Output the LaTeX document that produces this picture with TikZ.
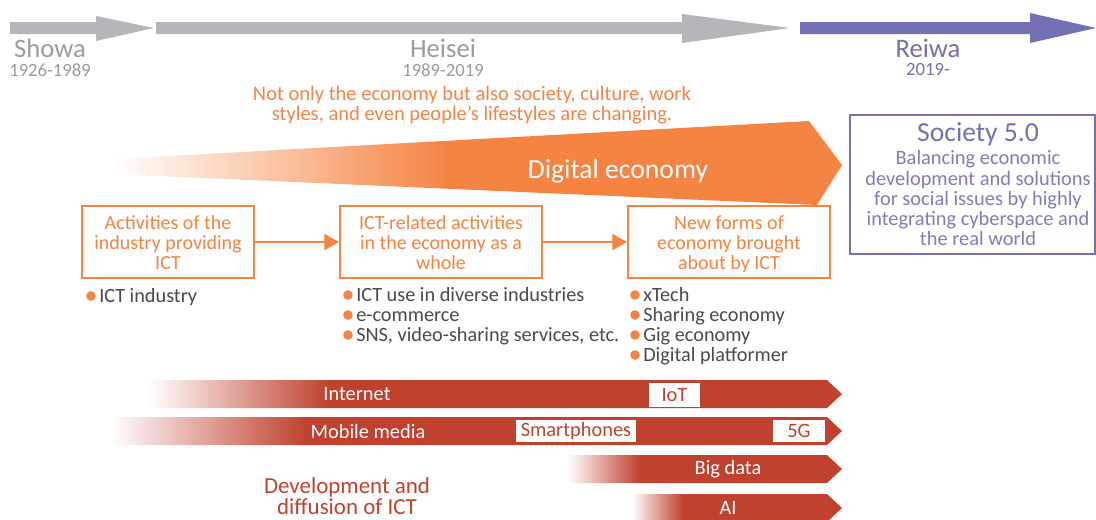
\documentclass[tikz,border=0pt]{standalone}
\usepackage{fontspec}
\setmainfont{Carlito}
\usetikzlibrary{arrows.meta}
\definecolor{tlgray}{HTML}{B5B6B9}
\definecolor{txgray}{HTML}{9B9B9B}
\definecolor{purp}{HTML}{7370B3}
\definecolor{purptx}{HTML}{7F7CBC}
\definecolor{orgc}{HTML}{F58342}
\definecolor{barc}{HTML}{BF412E}
\definecolor{dark}{HTML}{4A4A4A}
\newcommand\ictbar[3]{%
  \begin{scope}
    \clip (#1,#3-14) -- (827,#3-14) -- (842,#3) -- (827,#3+14) -- (#1,#3+14) -- cycle;
    \shade[left color=white,right color=barc] (#1,#3-15) rectangle (#2,#3+15);
    \fill[barc] (#2-0.5,#3-15) rectangle (850,#3+15);
  \end{scope}}
\newcommand\bul[3]{\fill[orgc] (#1,#2) circle[radius=3.6pt];
  \node[btext] at (#1+8,#2+1.5) {#3};}
\tikzset{
  era/.style={font=\fontsize{20}{22}\selectfont},
  yr/.style={font=\fontsize{14}{16}\selectfont},
  ebox/.style={draw=orgc,line width=1.5pt,fill=white,inner sep=0pt,minimum height=54pt},
  etext/.style={text=orgc,align=center,font=\fontsize{15}{15}\selectfont,inner sep=0pt},
  btext/.style={anchor=west,text=dark,font=\fontsize{15.2}{15}\selectfont,inner sep=0pt,
    text height=10pt,text depth=3pt},
  barlab/.style={text=white,font=\fontsize{15.3}{15}\selectfont},
  wlab/.style={fill=white,text=barc,font=\fontsize{15.3}{15}\selectfont,inner sep=0pt,minimum height=18pt},
  conn/.style={draw=orgc,line width=1.5pt,-{Triangle[length=11pt,width=12pt]}}
}
\begin{document}
\begin{tikzpicture}[x=0.75pt,y=-0.75pt]
\useasboundingbox (0,0) rectangle (1096,519);
% timeline arrows
\fill[tlgray] (10,22) -- (96,22) -- (96,16) -- (154,28) -- (96,41) -- (96,34) -- (10,34) -- cycle;
\fill[tlgray] (156,22) -- (682,22) -- (682,14) -- (790,28) -- (682,43) -- (682,34) -- (156,34) -- cycle;
\fill[purp] (800,22) -- (1030,22) -- (1030,13) -- (1096,28) -- (1030,43) -- (1030,34) -- (800,34) -- cycle;
\node[era,text=txgray] (showa) at (50,48) {Showa};
\node[yr,text=txgray] (showay) at (50,70) {1926-1989};
\node[era,text=txgray] (heisei) at (443,48) {Heisei};
\node[yr,text=txgray] (heiseiy) at (443,70) {1989-2019};
\node[era,text=purp] (reiwa) at (928,48) {Reiwa};
\node[yr,text=purp] (reiway) at (928,70) {2019-};
\node[text=orgc,align=center,font=\fontsize{15.4}{15}\selectfont] (note) at (472,105)
  {Not only the economy but also society, culture, work\\styles, and even people's lifestyles are changing.};
% digital economy shape
\begin{scope}
  \clip (113,159) -- (809,121) -- (842,165) -- (817,205) -- (113,174) -- cycle;
  \shade[left color=white,right color=orgc] (113,110) rectangle (450,210);
  \fill[orgc] (449.5,110) rectangle (850,210);
\end{scope}
\node[text=white,font=\fontsize{20.7}{22}\selectfont] (de) at (618,171) {Digital economy};
% boxes
\node[ebox,minimum width=129pt] (b1) at (168,242) {};
\node[ebox,minimum width=151.5pt] (b2) at (441,242) {};
\node[ebox,minimum width=151.5pt] (b3) at (729,242) {};
\node[etext] (t1) at (168,245) {\strut Activities of the\\industry providing\\ICT\strut};
\node[etext] (t2) at (441,245) {\strut ICT-related activities\\in the economy as a\\whole\strut};
\node[etext] (t3) at (729,245) {\strut New forms of\\economy brought\\about by ICT\strut};
\draw[conn] (b1) -- (b2);
\draw[conn] (b2) -- (b3);
% society 5.0
\node[draw=purp,line width=1.8pt,minimum width=183.75pt,minimum height=104.25pt,inner sep=0pt] (soc) at (972.5,184.5) {};
\node[text=purp,font=\fontsize{20.7}{22}\selectfont] (soct) at (978,134) {Society 5.0};
\node[text=purptx,align=center,font=\fontsize{15.3}{15}\selectfont,inner sep=0pt] (socb) at (978,201)
  {\strut Balancing economic\\development and solutions\\for social issues by highly\\integrating cyberspace and\\the real world\strut};
% bullets
\bul{91}{296}{ICT industry}
\bul{348}{295}{ICT use in diverse industries}
\bul{348}{315}{e-commerce}
\bul{348}{335}{SNS, video-sharing services, etc.}
\bul{635}{295}{xTech}
\bul{635}{315}{Sharing economy}
\bul{635}{335}{Gig economy}
\bul{635}{355}{Digital platformer}
% bars
\ictbar{148}{330}{394}
\ictbar{110}{307}{431}
\ictbar{568}{640}{469}
\ictbar{632}{683}{508}
\node[barlab] (inet) at (357,394) {Internet};
\node[barlab] (mob) at (368,431) {Mobile media};
\node[wlab,minimum width=38.25pt] (iot) at (674.5,395) {IoT};
\node[wlab,minimum width=90pt,minimum height=16.5pt] (smart) at (576,431) {Smartphones};
\node[wlab,minimum width=39pt,minimum height=16.5pt] (fiveg) at (799,431) {5G};
\node[barlab] (bigd) at (728,469) {Big data};
\node[barlab] (ai) at (728,508) {AI};
\node[text=barc,align=center,font=\fontsize{17.2}{16}\selectfont,inner sep=0pt] (dev) at (347,496)
  {Development and\\diffusion of ICT};
\end{tikzpicture}
\end{document}
